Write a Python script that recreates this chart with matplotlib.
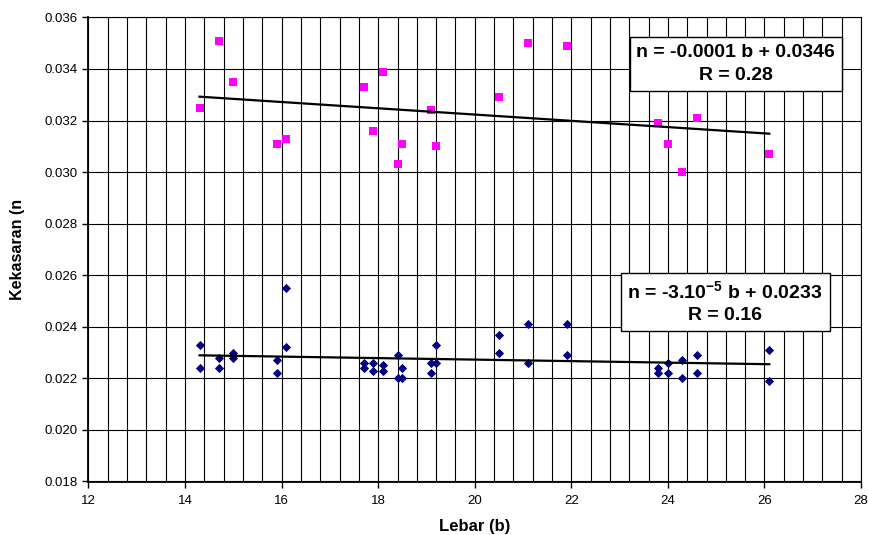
import matplotlib
matplotlib.use("Agg")
import matplotlib.pyplot as plt
from matplotlib.ticker import MultipleLocator, FormatStrFormatter
import numpy as np

plt.rcParams['font.family'] = ['Liberation Sans', 'DejaVu Sans']
plt.rcParams['mathtext.fontset'] = 'custom'
plt.rcParams['mathtext.rm'] = 'Liberation Sans:bold'
plt.rcParams['mathtext.default'] = 'rm'

# lebar (b) untuk tiap penampang
lebar = [14.3, 14.7, 15.0, 15.9, 16.1, 17.7, 17.9, 18.1, 18.4, 18.5,
         19.1, 19.2, 20.5, 21.1, 21.9, 23.8, 24.0, 24.3, 24.6, 26.1]

# seri atas (kotak magenta)
n_atas = [0.0325, 0.0351, 0.0335, 0.0311, 0.0313, 0.0333, 0.0316, 0.0339, 0.0303, 0.0311,
          0.0324, 0.0310, 0.0329, 0.0350, 0.0349, 0.0319, 0.0311, 0.0300, 0.0321, 0.0307]

# seri bawah (belah ketupat biru), dua nilai per lebar
n_bawah_1 = [0.0233, 0.0228, 0.0230, 0.0227, 0.0255, 0.0226, 0.0226, 0.0225, 0.0229, 0.0224,
             0.0226, 0.0233, 0.0237, 0.0241, 0.0241, 0.0224, 0.0226, 0.0227, 0.0229, 0.0231]
n_bawah_2 = [0.0224, 0.0224, 0.0228, 0.0222, 0.0232, 0.0224, 0.0223, 0.0223, 0.0220, 0.0220,
             0.0222, 0.0226, 0.0230, 0.0226, 0.0229, 0.0222, 0.0222, 0.0220, 0.0222, 0.0219]

label_atas = "n = -0.0001 b + 0.0346\nR = 0.28"
label_bawah = "n = -3.10$^{-5}$ b + 0.0233\nR = 0.16"

fig = plt.figure(figsize=(8.7, 5.35), dpi=100)
ax = fig.add_axes([0.1017, 0.1, 0.888, 0.8675])

x_atas = np.array(lebar)
y_atas = np.array(n_atas)
x_bawah = np.array(lebar + lebar)
y_bawah = np.array(n_bawah_1 + n_bawah_2)

ax.scatter(x_bawah, y_bawah, marker='D', s=22, color='#000080', zorder=3, linewidths=0)
ax.scatter(x_atas, y_atas, marker='s', s=36, color='#FF00FF', zorder=3, linewidths=0)

# garis tren linear
for xs, ys in [(x_atas, y_atas), (x_bawah, y_bawah)]:
    a, b = np.polyfit(xs, ys, 1)
    xx = np.array([xs.min(), xs.max()])
    ax.plot(xx, a * xx + b, color='black', lw=1.6, zorder=4)

ax.set_xlim(12, 28)
ax.set_ylim(0.018, 0.036)
ax.xaxis.set_major_locator(MultipleLocator(2))
ax.xaxis.set_minor_locator(MultipleLocator(0.4))
ax.yaxis.set_major_locator(MultipleLocator(0.002))
ax.yaxis.set_major_formatter(FormatStrFormatter('%.3f'))
ax.grid(True, which='both', axis='x', color='black', lw=0.8)
ax.grid(True, which='major', axis='y', color='black', lw=0.8)
ax.set_axisbelow(True)

ax.tick_params(axis='both', which='major', length=4, width=1, labelsize=9.5, direction='out')
ax.tick_params(axis='x', which='major', pad=6)
ax.tick_params(axis='x', which='minor', length=0)
for s in ['left', 'bottom']:
    ax.spines[s].set_linewidth(1.3)
for s in ['top', 'right']:
    ax.spines[s].set_linewidth(0.8)

ax.set_xlabel("Lebar (b)", fontsize=12, fontweight='bold', labelpad=8)
ax.set_ylabel("Kekasaran (n", fontsize=11.5, fontweight='bold', labelpad=14)

kotak = dict(boxstyle='square,pad=0.35', facecolor='white', edgecolor='black', lw=1)
ax.text(0.838, 0.90, label_atas, transform=ax.transAxes, ha='center', va='center',
        fontsize=14, fontweight='bold', bbox=kotak, linespacing=1.45, zorder=5)
ax.text(0.824, 0.387, label_bawah, transform=ax.transAxes, ha='center', va='center',
        fontsize=14, fontweight='bold', bbox=kotak, linespacing=1.4, zorder=5)

fig.savefig("out.png", dpi=100)
